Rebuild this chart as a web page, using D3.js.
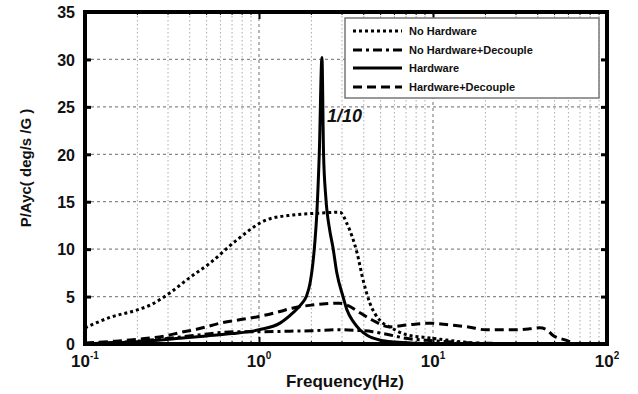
<!DOCTYPE html>
<html><head><meta charset="utf-8">
<script src="https://cdn.jsdelivr.net/npm/d3@7"></script>
<style>
body{margin:0;background:#fff;}
svg text{font-family:Arial,"Liberation Sans",sans-serif;font-weight:bold;fill:#111;}
</style></head>
<body><svg id="c" width="638" height="394"></svg>
<script>
// ---- data ----
const xTickValues = [0.1, 1, 10, 100];
const xTickExps = ["-1", "0", "1", "2"];
const yTickValues = [0, 5, 10, 15, 20, 25, 30, 35];
const seriesNames = ["No Hardware", "No Hardware+Decouple", "Hardware", "Hardware+Decouple"];

const noHwFreq = [0.1, 0.139, 0.2, 0.237, 0.308, 0.4, 0.52, 0.75, 1.11, 1.57, 2.24, 2.92, 3.2, 3.66, 3.97, 4.34, 4.95, 5.65, 7.1, 9, 11, 15, 19, 25];
const noHwVal  = [1.7, 2.8, 3.6, 4.1, 5.4, 7.0, 8.5, 11, 13.1, 13.6, 13.8, 13.9, 12.7, 9.6, 6.7, 4.3, 2.5, 1.8, 0.95, 0.7, 0.5, 0.2, 0.05, 0];

const noHwDecFreq = [0.1, 0.2, 0.3, 0.45, 0.6, 0.8, 1, 1.5, 2, 2.9, 3.5, 4.5, 5.5, 7, 10, 15, 25, 40];
const noHwDecVal  = [0.05, 0.3, 0.6, 0.95, 1.2, 1.3, 1.3, 1.35, 1.4, 1.5, 1.45, 1.3, 1.0, 0.6, 0.35, 0.15, 0.05, 0];

const hwFreq = [0.1, 0.2, 0.35, 0.5, 0.7, 1.0, 1.32, 1.57, 1.75, 1.87, 1.97, 2.04, 2.1, 2.15, 2.22, 2.3, 2.35, 2.42, 2.55, 2.66, 2.8, 3.04, 3.2, 3.5, 3.8, 4.2, 5.0, 6.0, 8, 12, 100];
const hwVal  = [0.05, 0.25, 0.6, 0.85, 1.1, 1.5, 2.2, 3.3, 4.2, 5.0, 6.5, 8.5, 11, 13.8, 20, 30.2, 20, 15.5, 12, 10.2, 7.5, 5.0, 3.6, 2.3, 1.5, 0.9, 0.4, 0.2, 0.08, 0.03, 0];

const hwDecFreq = [0.1, 0.15, 0.2, 0.3, 0.35, 0.45, 0.6, 0.8, 1.0, 1.3, 1.57, 2.0, 2.4, 2.9, 3.3, 3.8, 4.5, 5.65, 7.1, 9.6, 12.5, 16, 20, 29, 36, 41, 45, 49, 58, 65];
const hwDecVal  = [0.1, 0.3, 0.5, 0.9, 1.2, 1.6, 2.2, 2.6, 2.9, 3.4, 3.8, 4.1, 4.25, 4.3, 4.0, 3.3, 2.5, 1.8, 2.0, 2.2, 2.0, 1.8, 1.5, 1.5, 1.6, 1.7, 1.5, 0.9, 0.4, 0];

// ---- layout ----
const svg = d3.select("#c");
const L = 85, R = 607, T = 12, B = 344;
const x = d3.scaleLog().domain([0.1, 100]).range([L, R]);
const y = d3.scaleLinear().domain([0, 35]).range([B, T]);

const styles = [
  {dash: "3,3", w: 3},
  {dash: "9,4,3,4", w: 3},
  {dash: null, w: 3},
  {dash: "9,5", w: 3}
];

// grid
const minor = [];
for (let d = -1; d < 2; d++) for (let k = 2; k <= 9; k++) minor.push(k * Math.pow(10, d));
const g = svg.append("g");
g.selectAll(".vm").data(minor).enter().append("line")
  .attr("x1", d => x(d)).attr("x2", d => x(d)).attr("y1", T).attr("y2", B)
  .attr("stroke", "#aaa").attr("stroke-width", 1).attr("stroke-dasharray", "1.5,2.5");
g.selectAll(".vM").data([1, 10]).enter().append("line")
  .attr("x1", d => x(d)).attr("x2", d => x(d)).attr("y1", T).attr("y2", B)
  .attr("stroke", "#888").attr("stroke-width", 1.2).attr("stroke-dasharray", "3,3");
g.selectAll(".h").data(yTickValues.filter(v => v > 0 && v < 35)).enter().append("line")
  .attr("x1", L).attr("x2", R).attr("y1", d => y(d)).attr("y2", d => y(d))
  .attr("stroke", "#888").attr("stroke-width", 1.2).attr("stroke-dasharray", "3,3");

// series
const all = [
  [noHwFreq, noHwVal], [noHwDecFreq, noHwDecVal], [hwFreq, hwVal], [hwDecFreq, hwDecVal]
];
const line = d3.line().x(d => x(d[0])).y(d => y(d[1])).curve(d3.curveMonotoneX);
svg.append("clipPath").attr("id", "cp").append("rect").attr("x", L).attr("y", T - 2).attr("width", R - L).attr("height", B - T + 2);
all.forEach((s, i) => {
  const pts = s[0].map((f, j) => [f, s[1][j]]);
  svg.append("path").attr("d", line(pts)).attr("fill", "none")
    .attr("stroke", "#000").attr("stroke-width", styles[i].w)
    .attr("stroke-dasharray", styles[i].dash)
    .attr("stroke-linejoin", "round")
    .attr("clip-path", "url(#cp)");
});

// axes
const yAxis = d3.axisLeft(y).tickValues(yTickValues).tickSizeInner(-6).tickSizeOuter(0).tickPadding(10);
const ya = svg.append("g").attr("transform", `translate(${L},0)`).call(yAxis);
ya.select(".domain").remove();
ya.selectAll(".tick line").attr("stroke-width", 3);
ya.selectAll(".tick text").attr("font-size", 16).attr("font-weight", "bold").attr("fill", "#111")
  .attr("font-family", "Arial, Liberation Sans, sans-serif").attr("dy", "0.36em");

const yAxisR = d3.axisRight(y).tickValues(yTickValues.filter(v => v > 0 && v < 35)).tickSizeInner(-6).tickSizeOuter(0).tickFormat("");
const yr = svg.append("g").attr("transform", `translate(${R},0)`).call(yAxisR);
yr.select(".domain").remove();
yr.selectAll(".tick line").attr("stroke-width", 3);

const xAxis = d3.axisBottom(x).tickValues(xTickValues).tickSizeInner(-7).tickSizeOuter(0).tickPadding(12).tickFormat("");
const xa = svg.append("g").attr("transform", `translate(0,${B})`).call(xAxis);
xa.select(".domain").remove();
xa.selectAll(".tick line").attr("stroke-width", 2);
// minor ticks
svg.append("g").selectAll("line").data(minor).enter().append("line")
  .attr("x1", d => x(d)).attr("x2", d => x(d)).attr("y1", B).attr("y2", B - 3)
  .attr("stroke", "#000").attr("stroke-width", 1);
svg.append("g").selectAll("line").data(minor).enter().append("line")
  .attr("x1", d => x(d)).attr("x2", d => x(d)).attr("y1", T).attr("y2", T + 3)
  .attr("stroke", "#000").attr("stroke-width", 1);
const xAxisT = d3.axisTop(x).tickValues([1, 10]).tickSizeInner(-7).tickSizeOuter(0).tickFormat("");
const xt = svg.append("g").attr("transform", `translate(0,${T})`).call(xAxisT);
xt.select(".domain").remove();
xt.selectAll(".tick line").attr("stroke-width", 2);

// x tick labels with superscripts
xTickValues.forEach((v, i) => {
  const t = svg.append("text").attr("x", x(v)).attr("y", 367).attr("text-anchor", "middle").attr("font-size", 17);
  t.append("tspan").text("10");
  t.append("tspan").text(xTickExps[i]).attr("font-size", 10).attr("dy", -8);
});

// frame
svg.append("rect").attr("x", L).attr("y", T).attr("width", R - L).attr("height", B - T)
  .attr("fill", "none").attr("stroke", "#000").attr("stroke-width", 4);

// axis labels
svg.append("text").attr("x", 345).attr("y", 387).attr("text-anchor", "middle").attr("font-size", 17).text("Frequency(Hz)");
svg.append("text").attr("transform", "translate(31,168) rotate(-90)").attr("text-anchor", "middle").attr("font-size", 15).text("P/Ayc( deg/s /G )");

// annotation
svg.append("text").attr("x", 327).attr("y", 122).attr("font-size", 18).attr("font-style", "italic").text("1/10");

// legend
const lg = svg.append("g");
lg.append("rect").attr("x", 345).attr("y", 18).attr("width", 254).attr("height", 80)
  .attr("fill", "#fff").attr("stroke", "#777").attr("stroke-width", 1.5);
const ly = [31, 50, 68, 87];
seriesNames.forEach((n, i) => {
  lg.append("line").attr("x1", 353).attr("x2", 402).attr("y1", ly[i]).attr("y2", ly[i])
    .attr("stroke", "#000").attr("stroke-width", styles[i].w).attr("stroke-dasharray", styles[i].dash);
  lg.append("text").attr("x", 409).attr("y", ly[i] + 4).attr("font-size", 11).text(n);
});
</script></body></html>
